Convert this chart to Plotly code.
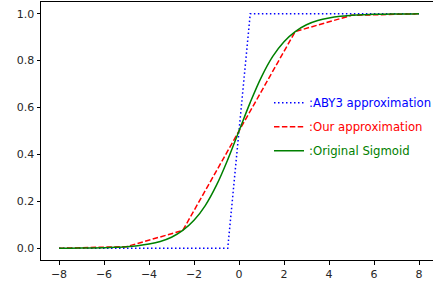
import plotly.graph_objects as go

# ABY3 approximation (piecewise)
aby3_x = [-8, -0.5, 0.5, 8]
aby3_y = [0.0, 0.0, 1.0, 1.0]

# Our approximation (piecewise linear)
our_x = [-8, -5, -2.5, 0, 2.5, 5, 8]
our_y = [0.0, 0.007, 0.076, 0.5, 0.924, 0.993, 1.0]

# Original sigmoid (read values)
sig_x = [-8, -7.5, -7, -6.5, -6, -5.5, -5, -4.5, -4, -3.5, -3, -2.5, -2, -1.5, -1, -0.5,
         0, 0.5, 1, 1.5, 2, 2.5, 3, 3.5, 4, 4.5, 5, 5.5, 6, 6.5, 7, 7.5, 8]
sig_y = [0.0003, 0.0006, 0.0009, 0.0015, 0.0025, 0.0041, 0.0067, 0.011, 0.018, 0.029,
         0.047, 0.076, 0.119, 0.182, 0.269, 0.378, 0.5, 0.622, 0.731, 0.818, 0.881,
         0.924, 0.953, 0.971, 0.982, 0.989, 0.993, 0.996, 0.998, 0.998, 0.999, 0.999, 1.0]

x_ticks = [-8, -6, -4, -2, 0, 2, 4, 6, 8]
x_tick_labels = ["\u22128", "\u22126", "\u22124", "\u22122", "0", "2", "4", "6", "8"]
y_ticks = [0.0, 0.2, 0.4, 0.6, 0.8, 1.0]
y_tick_labels = ["0.0", "0.2", "0.4", "0.6", "0.8", "1.0"]

fig = go.Figure()
fig.add_trace(go.Scatter(x=aby3_x, y=aby3_y, mode="lines", legendgroup="a",
                         name="<span style='color:#0000ff'>:ABY3 approximation</span>",
                         line=dict(color="#0000ff", width=1.5, dash="1.5px,2.5px")))
fig.add_trace(go.Scatter(x=our_x, y=our_y, mode="lines", legendgroup="b",
                         name="<span style='color:#ff0000'>:Our approximation</span>",
                         line=dict(color="#ff0000", width=1.5, dash="5.5px,2.4px")))
fig.add_trace(go.Scatter(x=sig_x, y=sig_y, mode="lines", legendgroup="c",
                         name="<span style='color:#008000'>:Original Sigmoid</span>",
                         line=dict(color="#008000", width=1.5, shape="spline")))

axis_common = dict(showgrid=False, zeroline=False, showline=True, linecolor="#000000",
                   linewidth=1, ticks="outside", ticklen=3.5, tickwidth=0.8,
                   tickcolor="#000000",
                   tickfont=dict(family="DejaVu Sans", size=11, color="#262626"))

fig.update_layout(
    width=437, height=282,
    margin=dict(l=41, r=0, t=2, b=22),
    paper_bgcolor="white", plot_bgcolor="white",
    xaxis=dict(range=[-8.8, 8.8], tickvals=x_ticks, ticktext=x_tick_labels,
               mirror=True, **axis_common),
    yaxis=dict(range=[-0.05, 1.05], tickvals=y_ticks, ticktext=y_tick_labels,
               **axis_common),
    legend=dict(x=0.576, y=0.666, xanchor="left", yanchor="top",
                bgcolor="rgba(0,0,0,0)", borderwidth=0, tracegroupgap=5,
                font=dict(family="DejaVu Sans", size=11.7)),
)

fig.write_html("out.html", config={"displayModeBar": False},
               post_script=("document.body.style.margin='0';"
                            "document.body.style.overflow='hidden';"
                            "document.documentElement.style.overflow='hidden';"))
